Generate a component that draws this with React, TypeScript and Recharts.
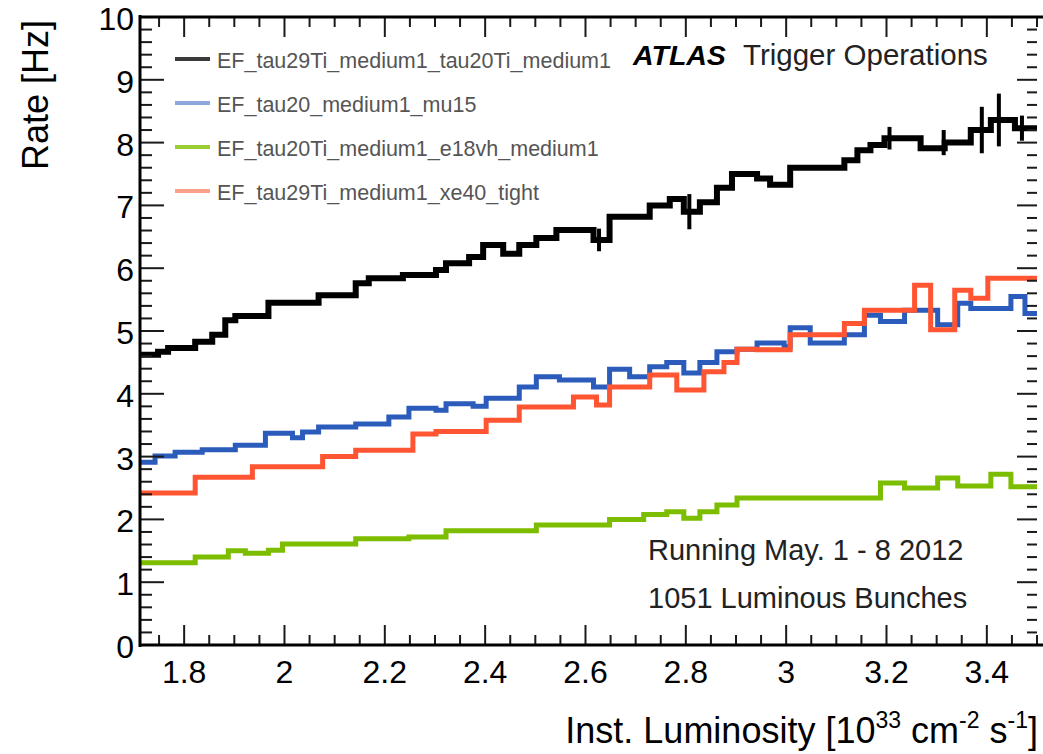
import React from 'react';
import { LineChart, Line, XAxis, YAxis, ErrorBar } from 'recharts';

// Step histogram data: [bin low edge, rate in Hz]
const blackSeries: [number, number][] = [
  [1.712, 4.62], [1.748, 4.67], [1.768, 4.73], [1.822, 4.83], [1.856, 4.94], [1.882, 5.17],
  [1.902, 5.24], [1.968, 5.45], [2.068, 5.57], [2.142, 5.76], [2.168, 5.84], [2.236, 5.89],
  [2.302, 5.97], [2.322, 6.08], [2.368, 6.18], [2.396, 6.37], [2.436, 6.23], [2.468, 6.37],
  [2.502, 6.48], [2.542, 6.61], [2.616, 6.45], [2.648, 6.82], [2.728, 7.0], [2.768, 7.1],
  [2.796, 6.9], [2.828, 7.05], [2.862, 7.28], [2.892, 7.5], [2.942, 7.43], [2.968, 7.33],
  [3.008, 7.6], [3.116, 7.72], [3.142, 7.88], [3.168, 7.96], [3.196, 8.07], [3.268, 7.91],
  [3.316, 8.0], [3.368, 8.2], [3.408, 8.36], [3.456, 8.23], [3.5, 8.23],
];

const blueSeries: [number, number][] = [
  [1.712, 2.91], [1.742, 3.01], [1.782, 3.07], [1.836, 3.11], [1.902, 3.18], [1.962, 3.37],
  [2.016, 3.3], [2.036, 3.39], [2.068, 3.47], [2.142, 3.52], [2.208, 3.63], [2.248, 3.77],
  [2.302, 3.74], [2.322, 3.84], [2.376, 3.8], [2.402, 3.93], [2.468, 4.11], [2.502, 4.27],
  [2.548, 4.22], [2.616, 4.11], [2.648, 4.39], [2.688, 4.27], [2.728, 4.43], [2.762, 4.5],
  [2.796, 4.33], [2.828, 4.5], [2.862, 4.67], [2.902, 4.71], [2.942, 4.81], [2.996, 4.75],
  [3.008, 5.05], [3.048, 4.81], [3.116, 4.94], [3.156, 5.25], [3.188, 5.15], [3.236, 5.33],
  [3.302, 5.1], [3.342, 5.44], [3.368, 5.36], [3.448, 5.55], [3.476, 5.28], [3.5, 5.28],
];

const greenSeries: [number, number][] = [
  [1.712, 1.31], [1.822, 1.4], [1.888, 1.5], [1.922, 1.46], [1.968, 1.51], [1.996, 1.61],
  [2.142, 1.69], [2.248, 1.72], [2.322, 1.82], [2.502, 1.91], [2.648, 2.0], [2.716, 2.08],
  [2.762, 2.12], [2.796, 2.02], [2.828, 2.12], [2.862, 2.23], [2.902, 2.34], [3.188, 2.58],
  [3.236, 2.5], [3.302, 2.66], [3.342, 2.53], [3.408, 2.72], [3.448, 2.52], [3.5, 2.52],
];

const redSeries: [number, number][] = [
  [1.712, 2.42], [1.822, 2.67], [1.936, 2.84], [2.076, 3.0], [2.142, 3.1], [2.256, 3.36],
  [2.302, 3.4], [2.402, 3.58], [2.468, 3.79], [2.576, 3.95], [2.622, 3.82], [2.648, 4.11],
  [2.728, 4.3], [2.782, 4.06], [2.836, 4.35], [2.876, 4.5], [2.902, 4.71], [2.942, 4.7],
  [3.008, 4.94], [3.116, 5.12], [3.156, 5.33], [3.256, 5.73], [3.288, 5.02], [3.336, 5.65],
  [3.368, 5.52], [3.402, 5.84], [3.5, 5.84],
];

// Error bars visible on the black series: [x, rate, error]
const blackErrors: [number, number, number][] = [
  [2.627, 6.45, 0.18], [2.807, 6.9, 0.28], [3.206, 8.07, 0.18], [3.314, 8.0, 0.2],
  [3.39, 8.2, 0.37], [3.424, 8.36, 0.42], [3.47, 8.23, 0.2],
];

const seriesNames = [
  'EF_tau29Ti_medium1_tau20Ti_medium1',
  'EF_tau20_medium1_mu15',
  'EF_tau20Ti_medium1_e18vh_medium1',
  'EF_tau29Ti_medium1_xe40_tight',
];

const majorXTicks = [1.8, 2, 2.2, 2.4, 2.6, 2.8, 3, 3.2, 3.4];
const majorYTicks = [0, 1, 2, 3, 4, 5, 6, 7, 8, 9, 10];

const X_DOMAIN: [number, number] = [1.712, 3.5];
const Y_DOMAIN: [number, number] = [0, 10];

const minorX: number[] = [];
for (let i = 35; i <= 70; i++) minorX.push(Math.round(i * 5) / 100);
const allXTicks = minorX.filter((v) => v >= X_DOMAIN[0] && v <= X_DOMAIN[1]);
const allYTicks: number[] = [];
for (let i = 0; i <= 50; i++) allYTicks.push(Math.round(i * 2) / 10);

const toPts = (arr: [number, number][]) => arr.map(([x, y]) => ({ x, y }));
const blackData = toPts(blackSeries);
const blueData = toPts(blueSeries);
const greenData = toPts(greenSeries);
const redData = toPts(redSeries);
const errData = blackErrors.map(([x, y, e]) => ({ x, y, e }));

const FONT = '"Liberation Sans", Arial, Helvetica, sans-serif';
const TICK_COLOR = '#1a1a1a';

const isMajor = (list: number[], v: number) => list.some((t) => Math.abs(t - v) < 1e-6);
const fmtX = (v: number) => (Math.abs(v - Math.round(v)) < 1e-6 ? String(Math.round(v)) : v.toFixed(1));

const W = 1043;
const H = 754;
const PLOT = { left: 140, top: 17, right: 1037, bottom: 645 };

const BottomTick = (props: any) => {
  const { x, payload } = props;
  const y = PLOT.bottom;
  const v = payload.value;
  const major = isMajor(majorXTicks, v);
  return (
    <g>
      <line x1={x} x2={x} y1={y} y2={y - (major ? 20 : 10)} stroke={TICK_COLOR} strokeWidth={2} />
      {major && (
        <text x={x} y={y + 38} textAnchor="middle" fontSize={32} fontFamily={FONT} fill="#000">
          {fmtX(v)}
        </text>
      )}
    </g>
  );
};

const TopTick = (props: any) => {
  const { x, payload } = props;
  const y = PLOT.top;
  const major = isMajor(majorXTicks, payload.value);
  return <line x1={x} x2={x} y1={y} y2={y + (major ? 20 : 10)} stroke={TICK_COLOR} strokeWidth={2} />;
};

const LeftTick = (props: any) => {
  const { y, payload } = props;
  const x = PLOT.left;
  const v = payload.value;
  const major = isMajor(majorYTicks, v);
  return (
    <g>
      <line x1={x} x2={x + (major ? 24 : 12)} y1={y} y2={y} stroke={TICK_COLOR} strokeWidth={2} />
      {major && (
        <text x={x - 6} y={y + 13} textAnchor="end" fontSize={32} fontFamily={FONT} fill="#000">
          {String(v)}
        </text>
      )}
    </g>
  );
};

const RightTick = (props: any) => {
  const { y, payload } = props;
  const x = PLOT.right;
  const major = isMajor(majorYTicks, payload.value);
  return <line x1={x} x2={x - (major ? 20 : 10)} y1={y} y2={y} stroke={TICK_COLOR} strokeWidth={2} />;
};

const legendColors = ['#3a3a3a', '#8ea7dc', '#9acd32', '#ffa08a'];
const legendRows = [59, 103, 147, 191];

export default function App() {
  return (
    <div style={{ position: 'absolute', left: 0, top: 0, width: W, height: H, background: '#fff' }}>
      <LineChart
        width={W}
        height={H}
        margin={{ top: PLOT.top - 10, left: PLOT.left - 10, right: W - PLOT.right - 6, bottom: H - PLOT.bottom - 10 }}
      >
        <XAxis
          xAxisId="b"
          dataKey="x"
          type="number"
          domain={X_DOMAIN}
          allowDataOverflow
          ticks={allXTicks}
          interval={0}
          height={10}
          tickLine={false}
          axisLine={false}
          tick={BottomTick}
        />
        <XAxis
          xAxisId="t"
          orientation="top"
          dataKey="x"
          type="number"
          domain={X_DOMAIN}
          allowDataOverflow
          ticks={allXTicks}
          interval={0}
          height={10}
          tickLine={false}
          axisLine={false}
          tick={TopTick}
        />
        <YAxis
          yAxisId="l"
          type="number"
          domain={Y_DOMAIN}
          allowDataOverflow
          ticks={allYTicks}
          interval={0}
          width={10}
          tickLine={false}
          axisLine={false}
          tick={LeftTick}
        />
        <YAxis
          yAxisId="r"
          orientation="right"
          type="number"
          domain={Y_DOMAIN}
          allowDataOverflow
          ticks={allYTicks}
          interval={0}
          width={6}
          tickLine={false}
          axisLine={false}
          tick={RightTick}
        />
        <Line xAxisId="t" yAxisId="r" data={blackData} dataKey="y" stroke="none" dot={false} isAnimationActive={false} />
        <Line xAxisId="b" yAxisId="l" data={blackData} dataKey="y" type="stepAfter" stroke="#000" strokeWidth={6} dot={false} isAnimationActive={false} />
        <Line xAxisId="b" yAxisId="l" data={errData} dataKey="y" stroke="none" dot={false} isAnimationActive={false}>
          <ErrorBar dataKey="e" width={0} stroke="#000" strokeWidth={4} direction="y" isAnimationActive={false} />
        </Line>
        <Line xAxisId="b" yAxisId="l" data={blueData} dataKey="y" type="stepAfter" stroke="#2b5cbc" strokeWidth={5} dot={false} isAnimationActive={false} />
        <Line xAxisId="b" yAxisId="l" data={greenData} dataKey="y" type="stepAfter" stroke="#7dbd00" strokeWidth={5} dot={false} isAnimationActive={false} />
        <Line xAxisId="b" yAxisId="l" data={redData} dataKey="y" type="stepAfter" stroke="#ff5533" strokeWidth={5} dot={false} isAnimationActive={false} />
      </LineChart>
      <svg
        width={W}
        height={H}
        style={{ position: 'absolute', left: 0, top: 0, pointerEvents: 'none' }}
        fontFamily={FONT}
      >
        {/* frame */}
        <line x1={PLOT.left} x2={PLOT.left} y1={PLOT.top - 2} y2={PLOT.bottom + 2} stroke="#000" strokeWidth={3} />
        <line x1={PLOT.left - 1} x2={W} y1={PLOT.bottom} y2={PLOT.bottom} stroke="#000" strokeWidth={3} />
        <line x1={PLOT.left - 1} x2={W} y1={PLOT.top} y2={PLOT.top} stroke="#000" strokeWidth={3} />
        {/* legend */}
        {seriesNames.map((name, i) => (
          <g key={name}>
            <line x1={175} x2={210} y1={legendRows[i]} y2={legendRows[i]} stroke={legendColors[i]} strokeWidth={4} />
            <text x={217} y={legendRows[i] + 9} fontSize={21.5} fill="#555">
              {name}
            </text>
          </g>
        ))}
        <text x={633} y={65} fontSize={28.5} fontWeight="bold" fontStyle="italic" fill="#000">
          ATLAS
        </text>
        <text x={743} y={65} fontSize={29.5} fill="#222">
          Trigger Operations
        </text>
        <text x={648} y={560} fontSize={29} fill="#222">
          Running May. 1 - 8 2012
        </text>
        <text x={648} y={608} fontSize={29} fill="#222">
          1051 Luminous Bunches
        </text>
        {/* axis titles */}
        <text x={48} y={20} fontSize={36} textAnchor="end" transform="rotate(-90 48 20)" fill="#000">
          Rate [Hz]
        </text>
        <text x={1038} y={743} fontSize={36} textAnchor="end" fill="#000">
          Inst. Luminosity [10
          <tspan dy={-15} fontSize={23}>33</tspan>
          <tspan dy={15}> cm</tspan>
          <tspan dy={-15} fontSize={23}>-2</tspan>
          <tspan dy={15}> s</tspan>
          <tspan dy={-15} fontSize={23}>-1</tspan>
          <tspan dy={15}>]</tspan>
        </text>
      </svg>
    </div>
  );
}
